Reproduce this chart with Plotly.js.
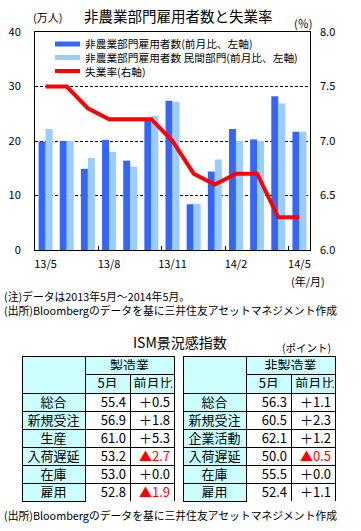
<!DOCTYPE html>
<html><head><meta charset="utf-8">
<script src="https://cdn.plot.ly/plotly-3.0.1.min.js"></script>
<style>html,body{margin:0;padding:0;background:#fff}</style>
</head><body><div id="chart" style="width:361px;height:531px"></div>
<script>
// ---- data ----
const months = ['13/5','13/6','13/7','13/8','13/9','13/10','13/11','13/12','14/1','14/2','14/3','14/4','14/5'];
const payrolls = [19.9, 20.0, 14.9, 20.2, 16.4, 23.7, 27.4, 8.4, 14.4, 22.2, 20.3, 28.2, 21.7];
const privatePayrolls = [22.2, 20.0, 16.9, 18.0, 15.3, 24.6, 27.2, 8.5, 16.6, 20.0, 20.0, 26.9, 21.7];
const unemployment = [7.5, 7.5, 7.3, 7.2, 7.2, 7.2, 7.0, 6.7, 6.6, 6.7, 6.7, 6.3, 6.3];
const seriesNames = ['非農業部門雇用者数(前月比、左軸)', '非農業部門雇用者数 民間部門(前月比、左軸)', '失業率(右軸)'];

const mfgItems = ['総合','新規受注','生産','入荷遅延','在庫','雇用'];
const mfgMay = [55.4, 56.9, 61.0, 53.2, 53.0, 52.8];
const mfgChange = [0.5, 1.8, 5.3, -2.7, 0.0, -1.9];
const svcItems = ['総合','新規受注','企業活動','入荷遅延','在庫','雇用'];
const svcMay = [56.3, 60.5, 62.1, 50.0, 55.5, 52.4];
const svcChange = [1.1, 2.3, 1.2, -0.5, 0.0, 1.1];

// ---- helpers ----
const W = 361, H = 531;
const FONT = '"Noto Sans CJK JP", "Noto Sans", sans-serif';
const px = x => x / W;
const py = y => 1 - y / H;
const fmtChange = v => (v < 0 ? '▲' + Math.abs(v).toFixed(1) : '＋' + v.toFixed(1));
const chgColor = v => (v < 0 ? '#ff0000' : '#000000');
const DARK = '#3366ff', LIGHT = '#99ccff', CYAN = '#ccffff';
const CLEAR = 'rgba(0,0,0,0)';

const traces = [
  {type:'bar', x: months, y: payrolls, name: seriesNames[0], marker:{color: DARK, line:{width:0}}, showlegend:false, hoverinfo:'skip'},
  {type:'bar', x: months, y: privatePayrolls, name: seriesNames[1], marker:{color: LIGHT, line:{width:0}}, showlegend:false, hoverinfo:'skip'},
  {type:'scatter', mode:'lines', x: months, y: unemployment, yaxis:'y2', name: seriesNames[2], line:{color:'#ff0000', width:4}, showlegend:false, hoverinfo:'skip'}
];

// table geometry (pixels)
const T_TOP = 356, T_MID = 374, T_HDR = 393, T_BOT = 502, ROW = 18;
const UP = 4, RIGHT = 4;   // text nudge inside cells

function tableSet(items, may, change, x0, x1, x2, title) {
  const tf = {family: FONT, size: 13, color: '#000'};
  const line = {color:'#000', width:1};
  const noLine = {color: CLEAR, width:0};
  const blank = items.map(() => '');
  return [
    // ---- frames (fills + borders) ----
    {type:'table', domain:{x:[px(x0), px(x1)], y:[py(T_BOT), py(T_TOP)]}, columnwidth:[1],
     header:{values:[['']], height:T_HDR - T_TOP, fill:{color:CYAN}, line:line, font:tf},
     cells:{values:[blank], height:ROW, fill:{color:CYAN}, line:line, font:tf}},
    {type:'table', domain:{x:[px(x1), px(x2)], y:[py(T_MID), py(T_TOP)]}, columnwidth:[1],
     header:{values:[['']], height:T_MID - T_TOP, fill:{color:CYAN}, line:line, font:tf},
     cells:{values:[[]], height:ROW}},
    {type:'table', domain:{x:[px(x1), px(x2)], y:[py(T_BOT), py(T_MID)]}, columnwidth:[45, 44],
     header:{values:[[''], ['']], height:T_HDR - T_MID, fill:{color:CYAN}, line:line, font:tf},
     cells:{values:[blank, blank], height:ROW, fill:{color:'#ffffff'}, line:line, font:tf}},
    // ---- texts ----
    {type:'table', domain:{x:[px(x0), px(x1)], y:[py(T_BOT - UP), py(T_TOP - UP)]}, columnwidth:[1],
     header:{values:[['']], height:T_HDR - T_TOP, fill:{color:CLEAR}, line:noLine, font:tf},
     cells:{values:[items], height:ROW, fill:{color:CLEAR}, line:noLine, font:tf, align:'center'}},
    {type:'table', domain:{x:[px(x1), px(x2)], y:[py(T_MID - UP), py(T_TOP - UP)]}, columnwidth:[1],
     header:{values:[[title]], height:T_MID - T_TOP, fill:{color:CLEAR}, line:noLine, font:tf, align:'center'},
     cells:{values:[[]], height:ROW}},
    {type:'table', domain:{x:[px(x1), px(x2 + 2)], y:[py(T_HDR - UP), py(T_MID - UP)]}, columnwidth:[45, 46],
     header:{values:[['5月'], ['前月比']], height:T_HDR - T_MID, fill:{color:CLEAR}, line:noLine, font:tf, align:'center'},
     cells:{values:[[], []], height:ROW}},
    {type:'table', domain:{x:[px(x1 + RIGHT), px(x2 + RIGHT)], y:[py(T_BOT - UP), py(T_MID - UP)]}, columnwidth:[45, 44],
     header:{values:[[''], ['']], height:T_HDR - T_MID, fill:{color:CLEAR}, line:noLine, font:tf},
     cells:{values:[may.map(v => v.toFixed(1)), change.map(fmtChange)], height:ROW,
            fill:{color:CLEAR}, line:noLine, align:'right',
            font:{family: FONT, size: 13, color:[may.map(() => '#000'), change.map(chgColor)]}}}
  ];
}

const data = traces
  .concat(tableSet(mfgItems, mfgMay, mfgChange, 22, 85, 174, '製造業'))
  .concat(tableSet(svcItems, svcMay, svcChange, 183, 246, 336, '非製造業'));

const ann = (text, x, y, size, anchor, extra) => Object.assign({
  text: text, x: px(x), y: py(y), xref:'paper', yref:'paper', showarrow:false,
  xanchor: anchor || 'center', yanchor:'middle', font:{family: FONT, size: size, color:'#000'}
}, extra || {});

const legendRows = [44, 57.5, 71];
const annotations = [
  ann('非農業部門雇用者数と失業率', 178, 16, 14.5),
  ann('(万人)', 47, 17, 11),
  ann('(％)', 303, 23, 11),
  ann('(年/月)', 308, 281, 11),
  ann('(注)データは2013年5月～2014年5月。', 2, 296, 10.8, 'left'),
  ann('(出所)Bloombergのデータを基に三井住友アセットマネジメント作成', 2, 310, 10.8, 'left'),
  ann('ISM景況感指数', 180, 342, 14),
  ann('(ポイント)', 306, 347, 10.5),
  ann('(出所)Bloombergのデータを基に三井住友アセットマネジメント作成', 2, 515, 10.8, 'left'),
  ann(seriesNames[0], 83, legendRows[0], 10.7, 'left'),
  ann(seriesNames[1], 83, legendRows[1], 10.7, 'left'),
  ann(seriesNames[2], 83, legendRows[2], 10.7, 'left')
];

const shapes = [
  {type:'rect', xref:'paper', yref:'paper', x0:px(55), x1:px(80), y0:py(legendRows[0]-2.5), y1:py(legendRows[0]+2.5), fillcolor:DARK, line:{width:0}},
  {type:'rect', xref:'paper', yref:'paper', x0:px(55), x1:px(80), y0:py(legendRows[1]-2.5), y1:py(legendRows[1]+2.5), fillcolor:LIGHT, line:{width:0}},
  {type:'line', xref:'paper', yref:'paper', x0:px(55), x1:px(80), y0:py(legendRows[2]), y1:py(legendRows[2]), line:{color:'#ff0000', width:4}}
];

const layout = {
  width: W, height: H,
  margin: {l:0, r:0, t:0, b:0, pad:0},
  paper_bgcolor:'#ffffff', plot_bgcolor:'#ffffff',
  font: {family: FONT, size: 11, color:'#000'},
  showlegend: false,
  barmode: 'group', bargap: 0.34, bargroupgap: 0,
  xaxis: {domain:[px(35), px(310)], type:'category', range:[-0.5, 12.5],
          showline:true, mirror:true, linecolor:'#000', linewidth:1,
          ticks:'inside', ticklen:4, tickcolor:'#000', tickson:'boundaries',
          tickmode:'linear', tick0:0, dtick:3, tickangle:0,
          showgrid:false, zeroline:false, tickfont:{family: FONT, size:11}, ticklabelstandoff:4, fixedrange:true},
  yaxis: {domain:[py(250), py(32)], range:[0, 40], dtick:10, tick0:0,
          showgrid:true, gridcolor:'#000', gridwidth:1, griddash:'3px,2px',
          showline:true, mirror:true, linecolor:'#000', linewidth:1,
          ticks:'', zeroline:false, tickfont:{family: FONT, size:11}, ticklabelstandoff:11, fixedrange:true},
  yaxis2: {overlaying:'y', side:'right', range:[6, 8], dtick:0.5, tick0:6, tickformat:'.1f',
           showgrid:false, zeroline:false, showline:false, ticks:'',
           tickfont:{family: FONT, size:11}, ticklabelstandoff:9, fixedrange:true},
  annotations: annotations,
  shapes: shapes
};

Plotly.newPlot('chart', data, layout, {staticPlot:true, displayModeBar:false});
</script></body></html>
